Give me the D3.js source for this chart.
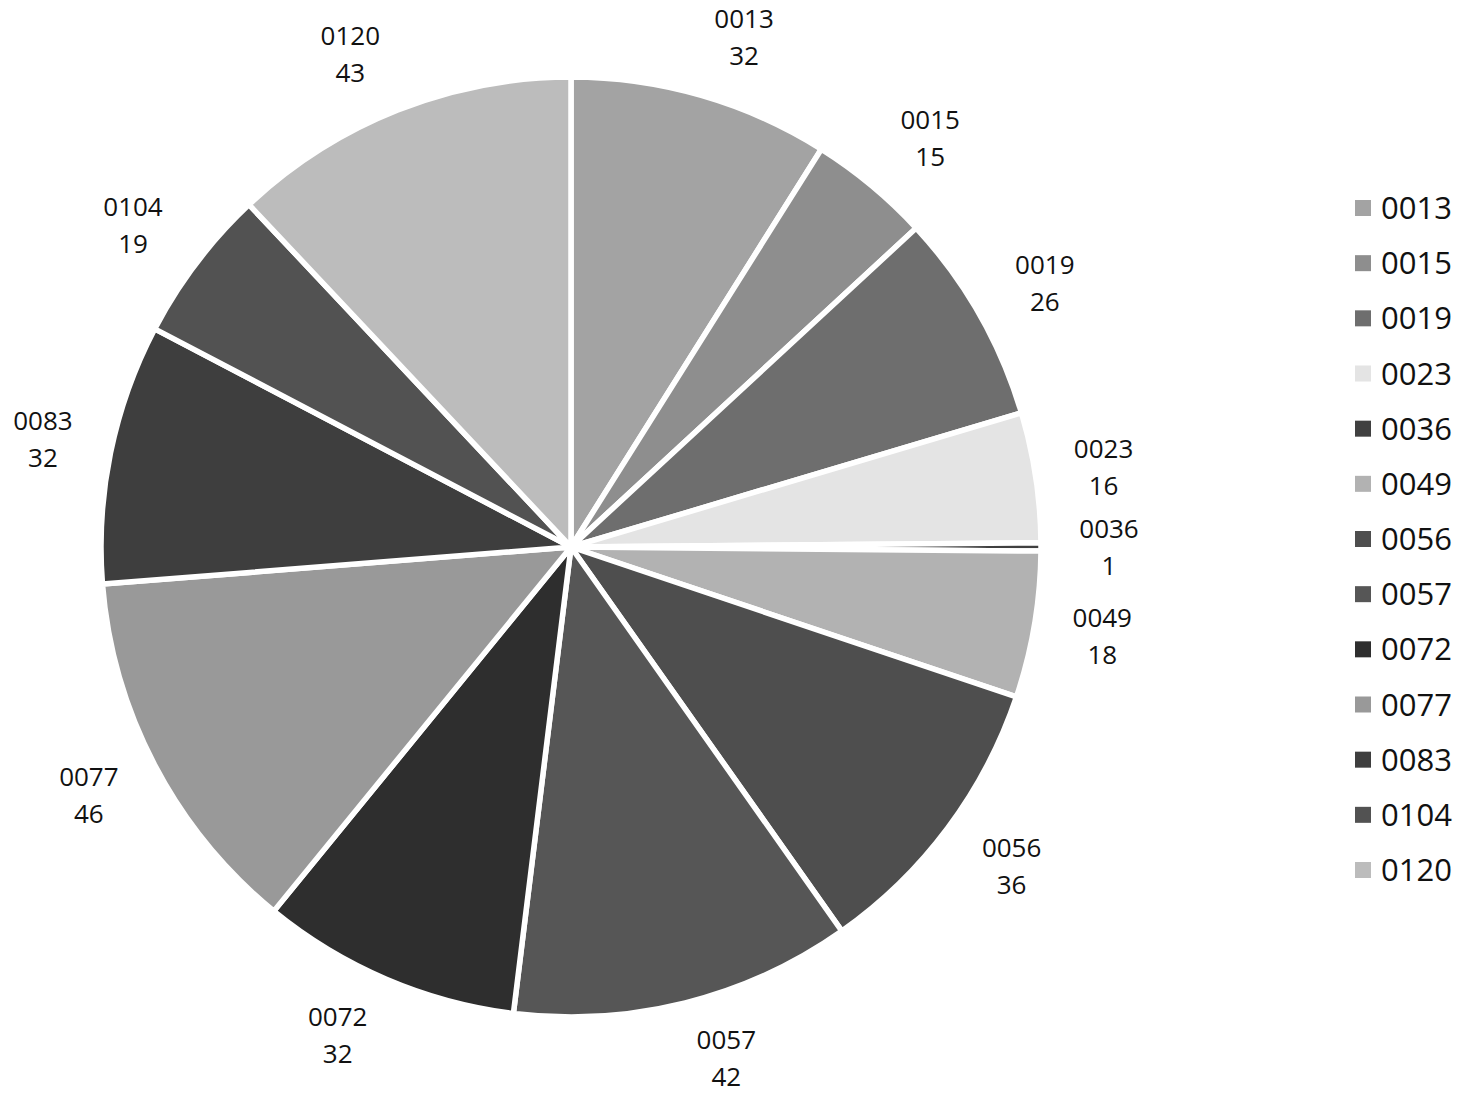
<!DOCTYPE html>
<html><head><meta charset="utf-8">
<script src="https://cdn.jsdelivr.net/npm/d3@7"></script>
<style>body{margin:0;background:#fff;}svg{display:block;font-family:"Open Sans","Noto Sans",sans-serif;}</style>
</head><body><svg id="c" width="1466" height="1094"></svg>
<script>
const categories = ["0013","0015","0019","0023","0036","0049","0056","0057","0072","0077","0083","0104","0120"];
const values = [32,15,26,16,1,18,36,42,32,46,32,19,43];
const colors = ["#a3a3a3","#8e8e8e","#6e6e6e","#e4e4e4","#404040","#b2b2b2","#4e4e4e","#565656","#2e2e2e","#999999","#3e3e3e","#525252","#bcbcbc"];

const W = 1466, H = 1094;
const svg = d3.select("#c");
const cx = 571, cy = 547, R = 470, LR = 538;
const data = categories.map((c,i)=>({cat:c, v:values[i], col:colors[i]}));
const pie = d3.pie().sort(null).value(d=>d.v);
const arcs = pie(data);
const arc = d3.arc().innerRadius(0).outerRadius(R);
const g = svg.append("g").attr("transform",`translate(${cx},${cy})`);
g.selectAll("path").data(arcs).join("path")
  .attr("d",arc).attr("fill",d=>d.data.col)
  .attr("stroke","#fff").attr("stroke-width",5.5).attr("stroke-linejoin","round");

const lab = g.selectAll("text.lab").data(arcs).join("text").attr("class","lab")
  .attr("text-anchor","middle").attr("font-size",26).attr("fill","#111");
lab.each(function(d){
  const a = (d.startAngle+d.endAngle)/2;
  const s = Math.sin(a), c = Math.cos(a);
  const x = LR*s + Math.sign(s)*26*c*c;
  let y = -c*(LR - 8*Math.abs(c));
  y = Math.min(y, H - cy - 36);
  const t = d3.select(this);
  t.append("tspan").attr("x",x).attr("y",y-9).text(d.data.cat);
  t.append("tspan").attr("x",x).attr("y",y+28).text(d.data.v);
});

const leg = svg.append("g");
const ly = d3.scalePoint().domain(categories).range([208,870]);
categories.forEach((c,i)=>{
  leg.append("rect").attr("x",1355).attr("y",ly(c)-8).attr("width",16).attr("height",16).attr("fill",colors[i]);
  leg.append("text").attr("x",1381).attr("y",ly(c)+11).attr("font-size",31).attr("fill","#111").text(c);
});
</script></body></html>
